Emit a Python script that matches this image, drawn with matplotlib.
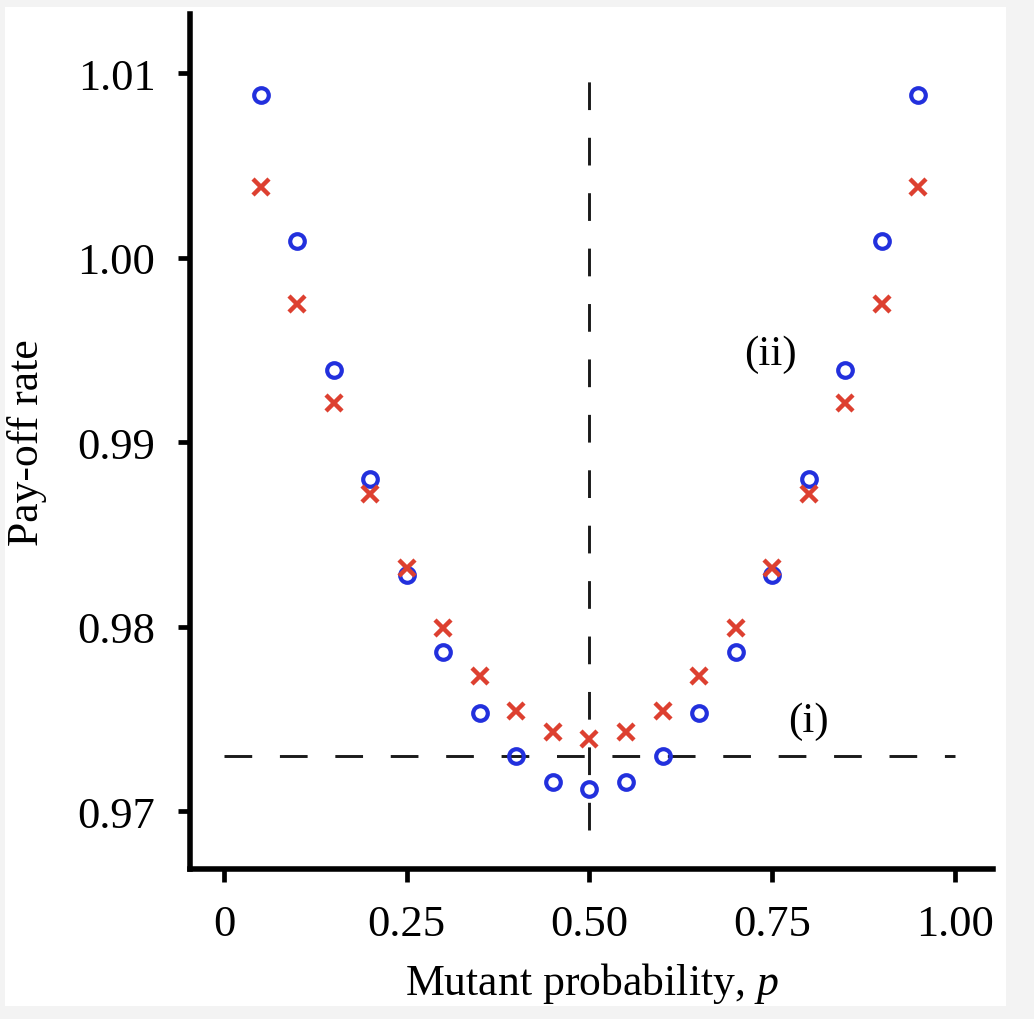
import numpy as np
import matplotlib
matplotlib.use('Agg')
import matplotlib.pyplot as plt
from matplotlib.patches import Rectangle

plt.rcParams['font.family'] = 'Liberation Serif'
plt.rcParams['mathtext.fontset'] = 'custom'
plt.rcParams['mathtext.rm'] = 'Liberation Serif'
plt.rcParams['mathtext.it'] = 'Liberation Serif:italic'

# mutant probability values
p = [0.05, 0.10, 0.15, 0.20, 0.25, 0.30, 0.35, 0.40, 0.45, 0.50,
     0.55, 0.60, 0.65, 0.70, 0.75, 0.80, 0.85, 0.90, 0.95]

# blue circles
payoff_circle = [1.0088, 1.0009, 0.9939, 0.9880, 0.9828, 0.9786, 0.9753, 0.9730, 0.9716, 0.9712,
                 0.9716, 0.9730, 0.9753, 0.9786, 0.9828, 0.9880, 0.9939, 1.0009, 1.0088]

# red crosses
payoff_cross = [1.0038, 0.9975, 0.9921, 0.9872, 0.9832, 0.9799, 0.9773, 0.9754, 0.9743, 0.9739,
                0.9743, 0.9754, 0.9773, 0.9799, 0.9832, 0.9872, 0.9921, 0.9975, 1.0038]

h_level = 0.9730
v_pos = 0.50

xticks = [0, 0.25, 0.5, 0.75, 1.0]
xtick_labels = ['0', '0.25', '0.50', '0.75', '1.00']
yticks = [0.97, 0.98, 0.99, 1.00, 1.01]
ytick_labels = ['0.97', '0.98', '0.99', '1.00', '1.01']

fig = plt.figure(figsize=(10.34, 10.2), dpi=100)
fig.patch.set_facecolor('#f3f3f3')
fig.add_artist(Rectangle((5 / 1034, 1 - 1007 / 1020), 1001 / 1034, 999 / 1020,
                         transform=fig.transFigure, facecolor='white',
                         edgecolor='none', zorder=-5))

ax = fig.add_axes([190 / 1034, 1 - 870 / 1020, 803 / 1034, 855 / 1020])
ax.set_facecolor('none')

ax.plot([0, 1], [h_level, h_level], color='#1a1a1a', lw=2.1, dashes=(9.5, 9.5), zorder=1)
ax.plot([v_pos, v_pos], [0.9690, 1.0096], color='#1a1a1a', lw=2.1, dashes=(9.5, 9.5), zorder=1)

ax.plot(p, payoff_circle, linestyle='none', marker='o', markersize=10.5,
        markerfacecolor='none', markeredgecolor='#2230dd', markeredgewidth=3.0, zorder=3)
ax.plot(p, payoff_cross, linestyle='none', marker='x', markersize=11.5,
        markeredgecolor='#dd4030', markeredgewidth=3.2, zorder=3)

ax.text(0.80, 0.9749, '(i)', fontsize=31, ha='center', va='center')
ax.text(0.747, 0.99477, '(ii)', fontsize=31, ha='center', va='center')

ax.set_xlim(-0.0465, 1.052)
ax.set_ylim(0.96686, 1.0132)

ax.set_xticks(xticks)
ax.set_xticklabels(xtick_labels)
ax.set_yticks(yticks)
ax.set_yticklabels(ytick_labels)

for side in ['top', 'right']:
    ax.spines[side].set_visible(False)
for side in ['left', 'bottom']:
    ax.spines[side].set_linewidth(4.0)

ax.tick_params(axis='both', direction='out', length=9, width=3.4, labelsize=32, pad=16)

ax.set_xlabel('Mutant probability, $p$', fontsize=31.5, labelpad=12)
ax.set_ylabel('Pay-off rate', fontsize=31.5, labelpad=22)

fig.savefig('out.png', dpi=100, facecolor=fig.get_facecolor())
